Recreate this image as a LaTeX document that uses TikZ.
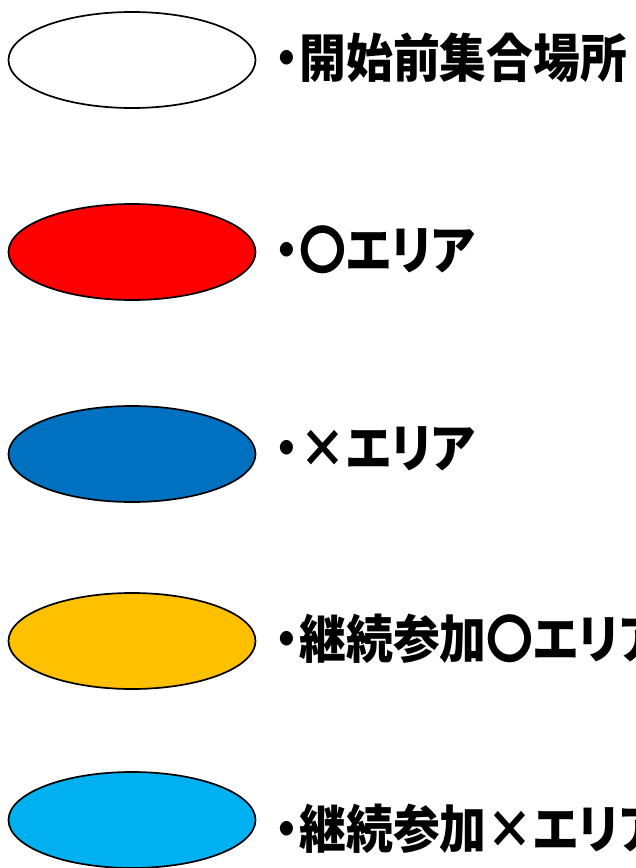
\documentclass[tikz,border=0pt]{standalone}
\usepackage{fontspec}
\usetikzlibrary{shapes.geometric}
\newfontfamily\jp{Noto Sans CJK JP}[RawFeature=+palt]
\definecolor{cred}{HTML}{FF0000}
\definecolor{cblue}{HTML}{0070C0}
\definecolor{corange}{HTML}{FFC000}
\definecolor{clight}{HTML}{00B0F0}
\tikzset{
  area/.style={ellipse, draw=black, line width=1.7pt, minimum width=247pt, minimum height=96pt, inner sep=0pt},
  label/.style={anchor=west, inner sep=0pt, font=\jp\bfseries\fontsize{52pt}{56pt}\selectfont}
}
\newcommand{\dotmark}{・\hspace{0.02em}}
\newcommand{\lbl}[1]{\scalebox{0.9}[1]{#1}}
\begin{document}
\begin{tikzpicture}[x=1pt,y=-1pt]
\useasboundingbox (0,0) rectangle (636,868);
\fill[white] (0,0) rectangle (636,868);
\node[area, fill=white]   (e1) at (132,60) {};
\node[area, fill=cred]    (e2) at (132,252) {};
\node[area, fill=cblue]   (e3) at (132,454) {};
\node[area, fill=corange] (e4) at (132,641) {};
\node[area, fill=clight]  (e5) at (132,820) {};
\node[label] (t1) at (275,58)  {\lbl{\dotmark 開始前集合場所}};
\node[label] (t2) at (275,250) {\lbl{\dotmark 〇エリア}};
\node[label] (t3) at (275,449) {\lbl{\dotmark ×エリア}};
\node[label] (t4) at (275,639) {\lbl{\dotmark 継続参加〇エリア}};
\node[label] (t5) at (275,829) {\lbl{\dotmark 継続参加×エリア}};
\end{tikzpicture}
\end{document}
